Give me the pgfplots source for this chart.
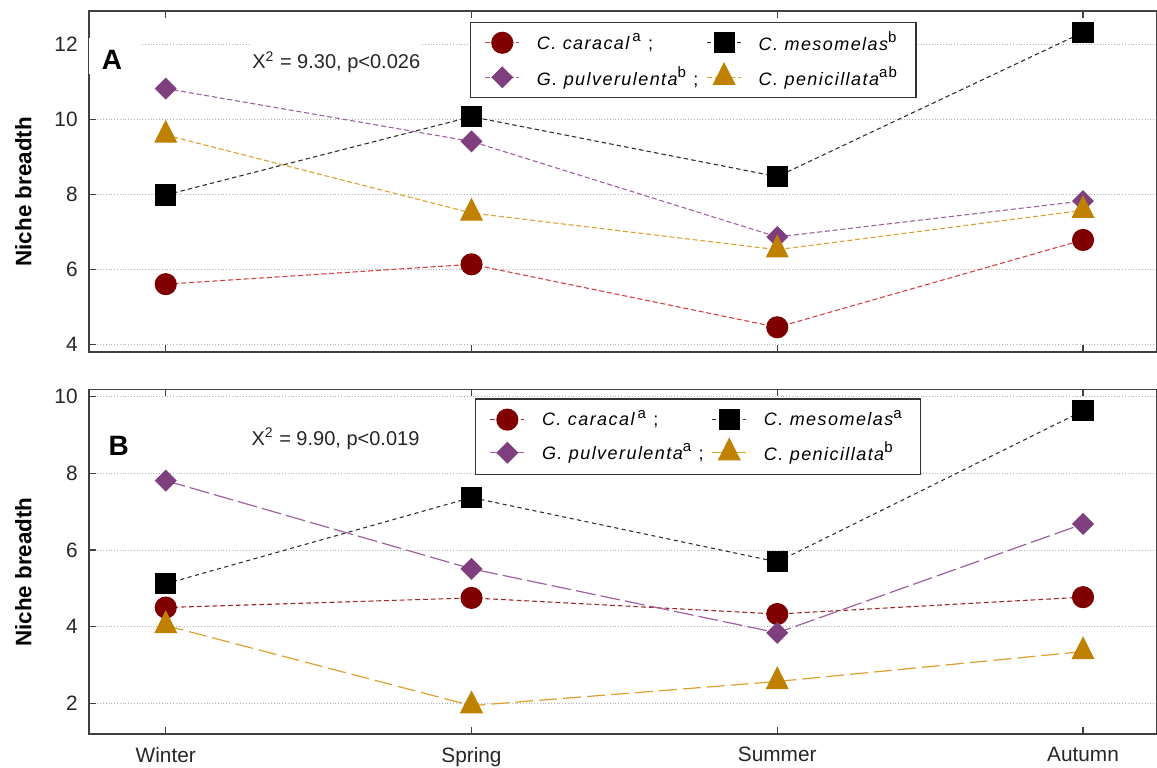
\documentclass[border=0pt]{standalone}
\usepackage{fontspec}
\setmainfont{Liberation Sans}
\newfontfamily\legfont[LetterSpace=8]{Liberation Sans}
\usepackage{pgfplots}
\pgfplotsset{compat=1.18}

% marker colours
\definecolor{carM}{HTML}{800000}
\definecolor{mesM}{HTML}{000000}
\definecolor{pulM}{HTML}{7F3F7F}
\definecolor{penM}{HTML}{C08000}
% line colours
\definecolor{carL}{HTML}{D84040}
\definecolor{carLb}{HTML}{A02828}
\definecolor{mesL}{HTML}{303030}
\definecolor{pulL}{HTML}{A060A0}
\definecolor{penL}{HTML}{DDA030}

\tikzset{
  stat/.style={font=\fontsize{10}{12}\selectfont, text=black!85, anchor=base west, inner xsep=1pt, fill=white, text height=16pt, text depth=1pt},
  panel/.style={font=\bfseries\fontsize{14}{16}\selectfont, anchor=base west, inner sep=0pt},
}

\pgfplotsset{
  niche/.style={
    scale only axis, width=534pt,
    xmin=-0.251, xmax=3.242,
    xtick={0,1,2,3},
    axis line style={draw=black!75, line width=0.8pt},
    ymajorgrids,
    grid style={densely dotted, black!30, line width=0.5pt},
    tick style={black!75, line width=0.6pt},
    major tick length=3.5pt,
    ytick pos=left,
    /pgf/number format/assume math mode=true,
    yticklabel style={font=\fontsize{10.4}{12}\selectfont, text=black!85, inner xsep=0pt, xshift=-5.5pt},
    xticklabel style={font=\fontsize{10.4}{12}\selectfont, text=black!85, inner ysep=0pt, yshift=-6.3pt},
    ylabel={Niche breadth},
    ylabel style={font=\bfseries\fontsize{11.2}{13}\selectfont, at={(axis description cs:-0.0534,0.47)}, anchor=south, inner sep=0pt},
    legend columns=2,
    legend cell align=left,
    legend style={draw=black!80, line width=0.7pt, fill=white,
      font=\legfont\itshape\fontsize{9}{11}\selectfont,
      inner xsep=7pt, inner ysep=2.8pt, column sep=2pt, row sep=2.5pt,
      /tikz/every odd column/.append style={column sep=6.5pt}},
  },
  carMk/.style={mark=*, mark size=5.25pt, mark options={solid, fill=carM, draw=carM}},
  mesMk/.style={mark=square*, mark size=5pt, mark options={solid, fill=mesM, draw=mesM}},
  pulMk/.style={mark=square*, mark size=3.6pt, mark options={solid, rotate=45, fill=pulM, draw=pulM}},
  penMk/.style={mark=triangle*, mark size=6.1pt, mark options={solid, yscale=1.15, fill=penM, draw=penM}},
}

\newcommand{\sps}[1]{\textsuperscript{\upshape\fontsize{7.5}{9}\selectfont #1}}

\begin{document}
\begin{tikzpicture}
\useasboundingbox (0pt,0pt) rectangle (578.5pt,383.5pt);

% Panel A
\begin{axis}[niche,
  at={(44.5pt,207.5pt)}, anchor=south west, height=170.5pt,
  ymin=3.79, ymax=12.89, ytick={4,6,8,10,12},
  xticklabels={},
  legend style={at={(rel axis cs:0.3567,0.9686)}, anchor=north west},
]
\addplot[carL, line width=0.55pt, dash pattern=on 2.5pt off 1.4pt, carMk]
  coordinates {(0,5.60) (1,6.13) (2,4.45) (3,6.78)};
\addlegendentry{C. caracal\,\sps{a}\ \upshape;}
\addplot[mesL, line width=0.55pt, dash pattern=on 2.2pt off 1.6pt, mesMk]
  coordinates {(0,7.98) (1,10.07) (2,8.47) (3,12.32)};
\addlegendentry{C. mesomelas\sps{b}}
\addplot[pulL, line width=0.55pt, dash pattern=on 2.5pt off 1.4pt, pulMk]
  coordinates {(0,10.82) (1,9.41) (2,6.86) (3,7.82)};
\addlegendentry{G. pulverulenta\sps{b}\ \upshape;}
\addplot[penL, line width=0.55pt, dash pattern=on 2.5pt off 1.4pt, penMk]
  coordinates {(0,9.58) (1,7.50) (2,6.52) (3,7.57)};
\addlegendentry{C. penicillata\sps{ab}}
\node[panel, fill=white, text height=16pt, text depth=2pt, text width=25.5pt, align=left]
  at (axis description cs:0,0.827) {\hspace*{6.3pt}A};
\node[stat] at (axis description cs:0.1507,0.830) {X\textsuperscript{2} = 9.30, p<0.026};
\end{axis}

% Panel B
\begin{axis}[niche,
  at={(44.5pt,16.5pt)}, anchor=south west, height=172.3pt,
  ymin=1.2, ymax=10.19, ytick={2,4,6,8,10},
  xticklabels={Winter,Spring,Summer,Autumn},
  legend style={at={(rel axis cs:0.3614,0.974)}, anchor=north west, inner ysep=3.6pt},
]
\addplot[carLb, line width=0.55pt, dash pattern=on 2.4pt off 1.5pt, carMk]
  coordinates {(0,4.50) (1,4.75) (2,4.33) (3,4.77)};
\addlegendentry{C. caracal\,\sps{a}\ \upshape;}
\addplot[mesL, line width=0.55pt, dash pattern=on 2pt off 1.8pt, mesMk]
  coordinates {(0,5.12) (1,7.37) (2,5.69) (3,9.63)};
\addlegendentry{C. mesomelas\sps{a}}
\addplot[pulL, line width=0.6pt, dash pattern=on 10pt off 2.5pt, pulMk]
  coordinates {(0,7.81) (1,5.51) (2,3.84) (3,6.68)};
\addlegendentry{G. pulverulenta\sps{a}\ \upshape;}
\addplot[penL, line width=0.6pt, dash pattern=on 9pt off 3pt, penMk]
  coordinates {(0,4.03) (1,1.94) (2,2.57) (3,3.35)};
\addlegendentry{C. penicillata\sps{b}}
\node[panel] at (axis description cs:0.018,0.809) {B};
\node[stat] at (axis description cs:0.150,0.8384) {X\textsuperscript{2} = 9.90, p<0.019};
\end{axis}
\end{tikzpicture}
\end{document}
